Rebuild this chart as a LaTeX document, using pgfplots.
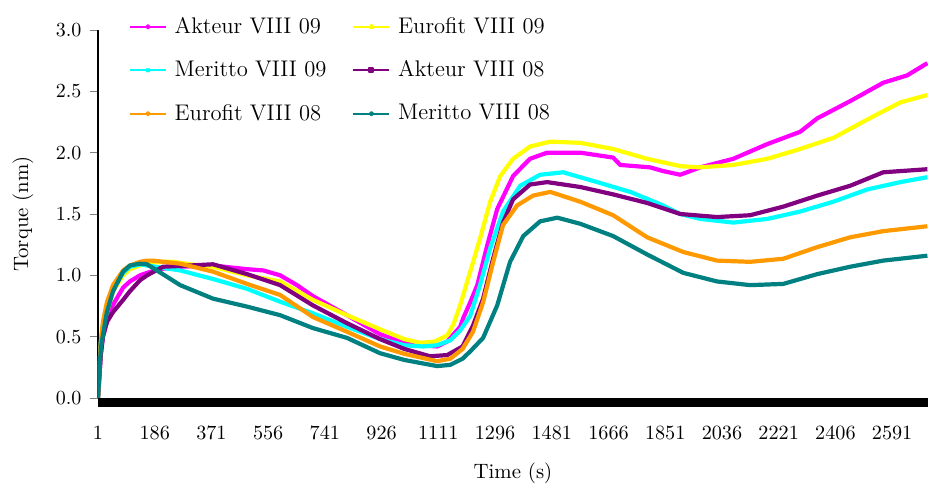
\documentclass[border=0pt]{standalone}
\usepackage{pgfplots}
\pgfplotsset{compat=1.18}
\definecolor{cMag}{RGB}{255,0,255}
\definecolor{cYel}{RGB}{255,255,0}
\definecolor{cCya}{RGB}{0,255,255}
\definecolor{cPur}{RGB}{128,0,128}
\definecolor{cOra}{RGB}{255,153,0}
\definecolor{cTea}{RGB}{0,128,128}
\begin{document}
\begin{tikzpicture}
\begin{axis}[
  name=ax, scale only axis, width=415pt, height=184pt,
  xmin=1, xmax=2708, ymin=0, ymax=3,
  axis x line=bottom, axis y line=left, axis line style={-, line width=0.6pt},
  x axis line style={draw=none},
  xtick={1,186,371,556,741,926,1111,1296,1481,1666,1851,2036,2221,2406,2591},
  xticklabels={1,186,371,556,741,926,1111,1296,1481,1666,1851,2036,2221,2406,2591},
  ytick={0,0.5,1,1.5,2,2.5,3},
  yticklabel style={xshift=-0.8pt, /pgf/number format/fixed, /pgf/number format/fixed zerofill, /pgf/number format/precision=1},
  tick align=outside, major tick length=4pt,
  xtick style={draw=none},
  tick label style={font=\fontsize{10.1}{12}\selectfont},
  xticklabel style={yshift=-6.3pt},
  xlabel={Time (s)}, ylabel={Torque (nm)},
  label style={font=\fontsize{10.4}{12}\selectfont},
  xlabel style={at={(axis description cs:0.5,-0.204)}, anchor=center},
  ylabel style={at={(axis description cs:-0.0904,0.5)}, anchor=center},
  clip mode=individual,
  legend columns=2,
  legend style={at={(axis description cs:0,1)}, anchor=north west, xshift=15.5pt, yshift=6.4pt,
    draw=none, fill=none, inner sep=0pt, outer sep=0pt, row sep=12.2pt,
    font=\fontsize{11.3}{13}\selectfont, cells={anchor=west},
    nodes={inner sep=0pt, outer sep=0pt},
    /tikz/every odd column/.append style={column sep=3.85pt},
    /tikz/every even column/.append style={column sep=13pt}},
  legend image code/.code={\draw[mark repeat=2,mark phase=2,#1] plot coordinates {(0pt,0pt) (9pt,0pt) (18pt,0pt)};},
  every axis plot/.append style={line width=2.1pt, line join=round},
]
% Akteur VIII 09
\addplot[cMag, forget plot] coordinates {
(1,0) (10,0.35) (17,0.5) (30,0.62) (50,0.76) (83,0.90) (105,0.95) (138,1.0) (161,1.02) (200,1.05) (269,1.07) (376,1.08) (487,1.05) (540,1.04) (595,1.00) (650,0.92) (702,0.83) (813,0.675) (921,0.52) (1000,0.45) (1052,0.43) (1107,0.42) (1140,0.46) (1182,0.58) (1192,0.65) (1215,0.78) (1238,0.92) (1270,1.24) (1303,1.54) (1355,1.81) (1410,1.95) (1466,2.0) (1574,2.0) (1681,1.96) (1704,1.90) (1802,1.88) (1844,1.85) (1900,1.82) (1965,1.88) (2073,1.95) (2184,2.07) (2291,2.17) (2347,2.28) (2454,2.42) (2562,2.57) (2640,2.63) (2706,2.73)};
% Eurofit VIII 09
\addplot[cYel, forget plot] coordinates {
(1,0) (10,0.4) (17,0.55) (30,0.7) (50,0.87) (83,1.0) (105,1.05) (138,1.08) (161,1.10) (213,1.11) (246,1.11) (300,1.09) (376,1.07) (487,1.0) (595,0.95) (702,0.80) (813,0.675) (921,0.56) (1000,0.48) (1052,0.45) (1100,0.46) (1140,0.51) (1160,0.60) (1182,0.755) (1215,1.03) (1247,1.30) (1280,1.60) (1313,1.81) (1355,1.95) (1410,2.05) (1476,2.09) (1574,2.08) (1681,2.03) (1792,1.95) (1900,1.89) (1965,1.88) (2073,1.90) (2184,1.95) (2291,2.03) (2399,2.12) (2510,2.27) (2618,2.41) (2706,2.47)};
% Meritto VIII 09
\addplot[cCya, forget plot] coordinates {
(1,0) (10,0.45) (17,0.6) (30,0.75) (50,0.89) (83,1.02) (105,1.07) (138,1.09) (161,1.08) (269,1.04) (376,0.97) (487,0.89) (595,0.785) (702,0.69) (813,0.58) (921,0.48) (1000,0.43) (1061,0.42) (1107,0.43) (1150,0.47) (1182,0.55) (1215,0.67) (1247,0.92) (1280,1.22) (1322,1.52) (1378,1.73) (1443,1.82) (1518,1.84) (1629,1.76) (1737,1.68) (1844,1.57) (1900,1.50) (1965,1.46) (2073,1.43) (2184,1.46) (2291,1.52) (2399,1.60) (2510,1.70) (2618,1.76) (2706,1.80)};
% Akteur VIII 08
\addplot[cPur, forget plot] coordinates {
(1,0) (10,0.35) (17,0.5) (30,0.62) (50,0.70) (83,0.80) (105,0.87) (138,0.96) (161,1.0) (213,1.07) (300,1.08) (376,1.09) (487,1.01) (595,0.92) (702,0.755) (813,0.61) (921,0.48) (1000,0.40) (1084,0.34) (1140,0.35) (1190,0.42) (1224,0.59) (1257,0.81) (1290,1.14) (1322,1.43) (1355,1.62) (1410,1.74) (1466,1.76) (1574,1.72) (1681,1.66) (1792,1.59) (1900,1.50) (2020,1.475) (2128,1.49) (2236,1.56) (2347,1.65) (2454,1.73) (2562,1.84) (2706,1.865)};
% Eurofit VIII 08
\addplot[cOra, forget plot] coordinates {
(1,0) (10,0.45) (17,0.62) (30,0.78) (50,0.92) (83,1.04) (105,1.08) (138,1.11) (161,1.12) (180,1.12) (269,1.095) (376,1.03) (487,0.93) (595,0.84) (702,0.66) (813,0.54) (921,0.42) (1000,0.36) (1107,0.30) (1150,0.32) (1190,0.40) (1224,0.54) (1257,0.78) (1290,1.11) (1322,1.41) (1368,1.57) (1420,1.65) (1476,1.68) (1574,1.60) (1681,1.49) (1792,1.31) (1910,1.19) (2020,1.12) (2128,1.11) (2236,1.135) (2347,1.23) (2454,1.31) (2562,1.36) (2706,1.40)};
% Meritto VIII 08
\addplot[cTea, forget plot] coordinates {
(1,0) (10,0.4) (17,0.51) (30,0.70) (50,0.87) (83,1.03) (105,1.08) (138,1.095) (161,1.09) (193,1.04) (269,0.92) (376,0.81) (487,0.745) (595,0.675) (702,0.57) (813,0.49) (921,0.365) (1000,0.31) (1107,0.26) (1150,0.27) (1190,0.32) (1215,0.38) (1257,0.49) (1303,0.755) (1345,1.11) (1388,1.32) (1443,1.44) (1499,1.47) (1574,1.42) (1681,1.32) (1792,1.17) (1910,1.02) (2020,0.95) (2128,0.92) (2236,0.93) (2347,1.01) (2454,1.07) (2562,1.12) (2706,1.16)};
\fill[black] (rel axis cs:0,0) rectangle ([yshift=-4.5pt]rel axis cs:1,0);
\addlegendimage{cMag, line width=1pt, mark=*, mark size=0.8pt}
\addlegendentry{Akteur VIII 09}
\addlegendimage{cYel, line width=1pt, mark=triangle*, mark size=1pt}
\addlegendentry{Eurofit VIII 09}
\addlegendimage{cCya, line width=1pt, mark=x, mark size=1.2pt}
\addlegendentry{Meritto VIII 09}
\addlegendimage{cPur, line width=1pt, mark=square*, mark size=1pt}
\addlegendentry{Akteur VIII 08}
\addlegendimage{cOra, line width=1pt, mark=*, mark size=0.8pt}
\addlegendentry{Eurofit VIII 08}
\addlegendimage{cTea, line width=1pt, mark=*, mark size=0.8pt}
\addlegendentry{Meritto VIII 08}
\end{axis}
\pgfresetboundingbox
\path[use as bounding box] ([xshift=-49pt,yshift=-46.5pt]ax.south west) rectangle ([yshift=15pt]ax.north east);
\end{tikzpicture}
\end{document}
